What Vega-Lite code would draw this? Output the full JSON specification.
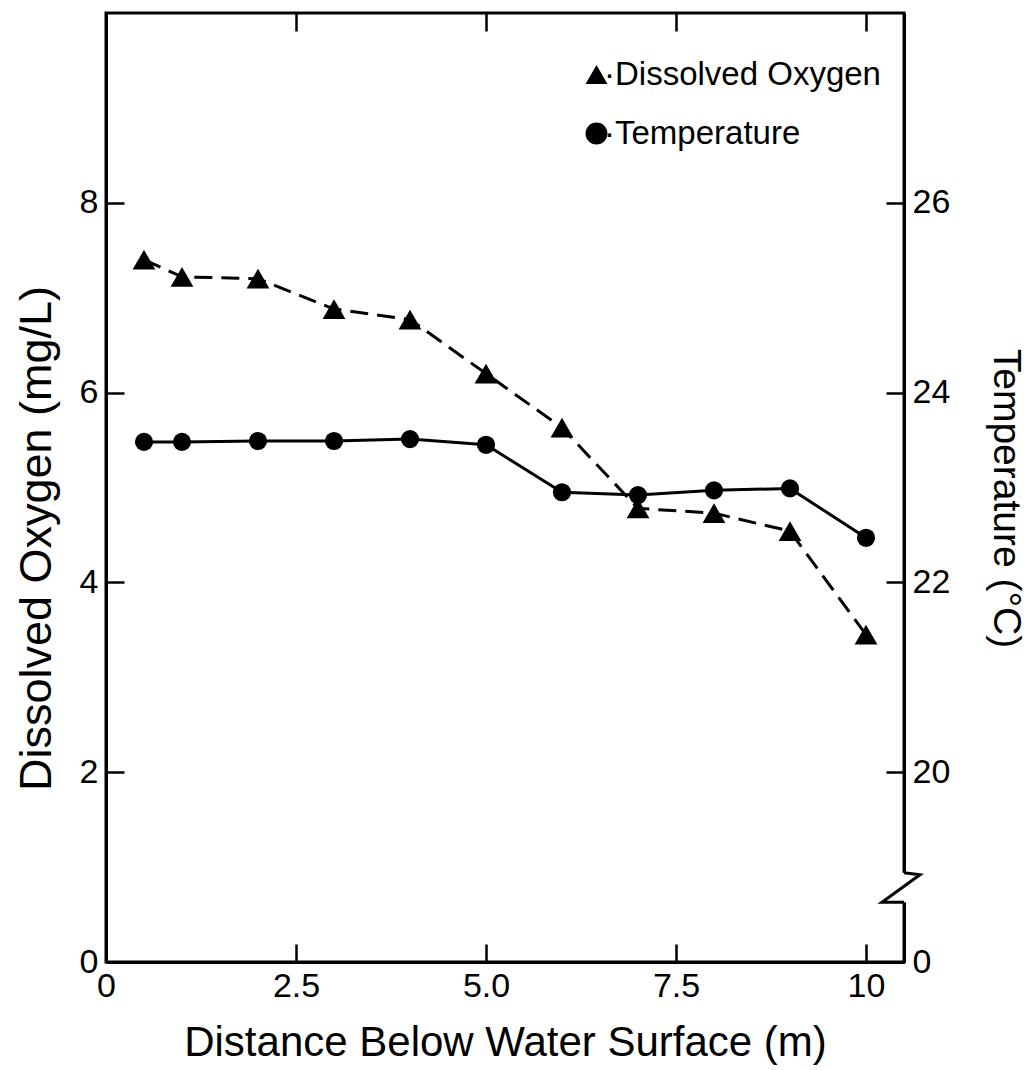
{
  "$schema": "https://vega.github.io/schema/vega-lite/v6.json",
  "width": 798,
  "height": 949,
  "autosize": {"type": "none"},
  "padding": {"left": 106, "top": 13, "right": 129, "bottom": 108},
  "background": "white",
  "config": {
    "view": {"stroke": "black", "strokeWidth": 3},
    "font": "Liberation Sans",
    "axis": {
      "domainColor": "black", "domainWidth": 3,
      "tickColor": "black", "tickWidth": 2.5, "tickSize": -18,
      "labelColor": "black", "titleColor": "black",
      "labelFont": "Liberation Sans", "titleFont": "Liberation Sans",
      "titleFontWeight": "normal", "labelFontSize": 34, "grid": false,
      "labelFlush": false
    },
    "legend": {"labelFont": "Liberation Sans"}
  },
  "datasets": {
    "oxygen": [
      {"depth": 0.5, "value": 7.40, "series": "Dissolved Oxygen"},
      {"depth": 1, "value": 7.22, "series": "Dissolved Oxygen"},
      {"depth": 2, "value": 7.20, "series": "Dissolved Oxygen"},
      {"depth": 3, "value": 6.88, "series": "Dissolved Oxygen"},
      {"depth": 4, "value": 6.77, "series": "Dissolved Oxygen"},
      {"depth": 5, "value": 6.20, "series": "Dissolved Oxygen"},
      {"depth": 6, "value": 5.63, "series": "Dissolved Oxygen"},
      {"depth": 7, "value": 4.78, "series": "Dissolved Oxygen"},
      {"depth": 8, "value": 4.73, "series": "Dissolved Oxygen"},
      {"depth": 9, "value": 4.54, "series": "Dissolved Oxygen"},
      {"depth": 10, "value": 3.45, "series": "Dissolved Oxygen"}
    ],
    "temperature": [
      {"depth": 0.5, "value": 23.48, "series": "Temperature"},
      {"depth": 1, "value": 23.48, "series": "Temperature"},
      {"depth": 2, "value": 23.49, "series": "Temperature"},
      {"depth": 3, "value": 23.49, "series": "Temperature"},
      {"depth": 4, "value": 23.51, "series": "Temperature"},
      {"depth": 5, "value": 23.45, "series": "Temperature"},
      {"depth": 6, "value": 22.95, "series": "Temperature"},
      {"depth": 7, "value": 22.92, "series": "Temperature"},
      {"depth": 8, "value": 22.97, "series": "Temperature"},
      {"depth": 9, "value": 22.99, "series": "Temperature"},
      {"depth": 10, "value": 22.47, "series": "Temperature"}
    ],
    "axisbreak": [
      {"i": 1, "x": 10.5, "t": 18.94},
      {"i": 2, "x": 10.71, "t": 18.92},
      {"i": 3, "x": 10.21, "t": 18.63},
      {"i": 4, "x": 10.5, "t": 18.63}
    ],
    "gap": [
      {"x": 10.5, "t": 18.94, "t2": 18.63}
    ]
  },
  "resolve": {"scale": {"y": "independent"}, "axis": {"x": "independent"}},
  "layer": [
    {
      "data": {"name": "oxygen"},
      "encoding": {
        "x": {
          "field": "depth", "type": "quantitative",
          "scale": {"domain": [0, 10.5], "nice": false, "zero": false},
          "axis": {
            "orient": "bottom", "values": [0, 2.5, 5, 7.5, 10],
            "labelExpr": "datum.value == 0 ? '0' : datum.value == 10 ? '10' : format(datum.value, '.1f')",
            "labelPadding": 25,
            "title": "Distance Below Water Surface (m)",
            "titleFontSize": 42, "titlePadding": 19
          }
        },
        "y": {
          "field": "value", "type": "quantitative",
          "scale": {"domain": [0, 10], "nice": false},
          "axis": {
            "orient": "left", "values": [0, 2, 4, 6, 8],
            "labelPadding": 26,
            "title": "Dissolved Oxygen (mg/L)",
            "titleFontSize": 45, "titlePadding": 20, "titleY": 525
          }
        }
      },
      "layer": [
        {"mark": {"type": "line", "color": "black", "strokeWidth": 3, "strokeDash": [18, 9]}},
        {
          "mark": {"type": "point", "filled": true, "color": "black", "opacity": 1, "size": 520},
          "encoding": {
            "shape": {
              "field": "series", "type": "nominal",
              "scale": {"domain": ["Dissolved Oxygen", "Temperature"], "range": ["triangle-up", "circle"]},
              "legend": {
                "title": null, "orient": "none", "legendX": 474, "legendY": 45,
                "labelFontSize": 33, "labelColor": "black", "labelOffset": -9,
                "labelLimit": 400,
                "labelExpr": "'·' + datum.label",
                "symbolSize": 480, "symbolFillColor": "black", "symbolStrokeColor": "black",
                "symbolStrokeWidth": 0, "rowPadding": 25
              }
            }
          }
        }
      ]
    },
    {
      "encoding": {
        "x": {
          "field": "depth", "type": "quantitative",
          "scale": {"domain": [0, 10.5], "nice": false, "zero": false},
          "axis": {"orient": "top", "values": [2.5, 5, 7.5, 10], "labels": false, "domain": false, "title": null}
        }
      },
      "layer": [
        {
          "data": {"name": "temperature"},
          "encoding": {
            "y": {
              "field": "value", "type": "quantitative",
              "scale": {"domain": [18, 28], "nice": false, "zero": false},
              "axis": {
                "orient": "right", "values": [18, 20, 22, 24, 26],
                "labelExpr": "datum.value == 18 ? '0' : format(datum.value, 'd')",
                "labelPadding": 26,
                "title": "Temperature (°C)",
                "titleFontSize": 39, "titlePadding": 36, "titleY": 485
              }
            }
          },
          "layer": [
            {"mark": {"type": "line", "color": "black", "strokeWidth": 3}},
            {
              "mark": {"type": "point", "filled": true, "color": "black", "opacity": 1, "size": 330},
              "encoding": {"shape": {"field": "series", "type": "nominal"}}
            }
          ]
        },
        {
          "data": {"name": "gap"},
          "mark": {"type": "rule", "color": "white", "strokeWidth": 6},
          "encoding": {
            "x": {"field": "x", "type": "quantitative"},
            "y": {"field": "t", "type": "quantitative"},
            "y2": {"field": "t2"}
          }
        },
        {
          "data": {"name": "axisbreak"},
          "mark": {"type": "line", "color": "black", "strokeWidth": 3},
          "encoding": {
            "x": {"field": "x", "type": "quantitative"},
            "y": {"field": "t", "type": "quantitative"},
            "order": {"field": "i"}
          }
        }
      ]
    }
  ]
}
